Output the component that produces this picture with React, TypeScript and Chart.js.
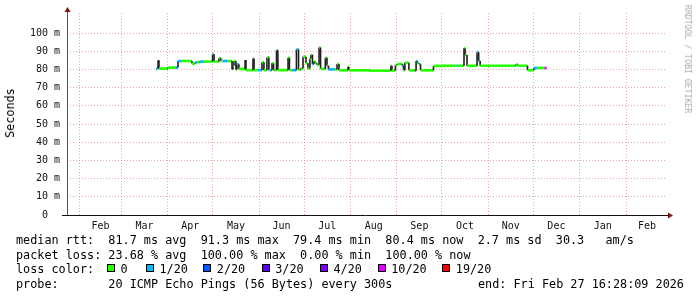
import React, { useEffect, useRef } from 'react';
import { Chart, registerables } from 'chart.js';

Chart.register(...registerables);

// Time axis in days since 2025-01-01 00:00 (window: last 400 days ending Fri Feb 27 16:28:09 2026)
const X_MIN = 22.686;
const X_MAX = 422.686;

// month boundaries (day offsets of the 1st of Feb 2025 ... Mar 2026)
const monthStarts = [31, 59, 90, 120, 151, 181, 212, 243, 273, 304, 334, 365, 396, 424];
const monthLabels = ['Feb', 'Mar', 'Apr', 'May', 'Jun', 'Jul', 'Aug', 'Sep', 'Oct', 'Nov', 'Dec', 'Jan', 'Feb'];

// y axis ticks (ms); labels every 10, minor lines every 5
const yTicks = [0, 5, 10, 15, 20, 25, 30, 35, 40, 45, 50, 55, 60, 65, 70, 75, 80, 85, 90, 95, 100, 105];
const Y_MAX = 111;

// Median RTT as runs: start day, median (ms), loss level index
const runStartDays = [
  82.1, 83.0, 83.5, 84.1, 90.1, 95.5, 96.8, 98.8, 106.2, 108.2,
  109.5, 111.5, 114.2, 119.9, 120.9, 124.2, 125.5, 126.5, 130.0, 132.9,
  133.5, 134.2, 135.5, 136.2, 137.5, 141.6, 142.2, 146.9, 147.6, 150.2,
  152.2, 152.9, 154.2, 156.2, 157.5, 158.3, 159.6, 160.6, 162.6, 163.5,
  170.3, 171.2, 173.0, 175.9, 177.3, 178.8, 180.3, 182.3, 183.6, 184.9,
  185.6, 186.6, 187.5, 188.5, 189.6, 191.0, 192.0, 195.2, 196.3, 197.3,
  201.5, 203.0, 204.3, 210.3, 210.9, 225.0, 239.0, 239.7, 242.0, 243.2,
  246.7, 247.4, 248.3, 251.0, 255.1, 255.8, 256.6, 257.8, 258.8, 267.4,
  272.9, 282.3, 283.0, 287.8, 288.5, 289.8, 296.5, 297.6, 298.6, 321.9,
  322.6, 323.9, 330.2, 334.5, 336.6, 341.5,
];
const runMedianMs = [
  80.3, 80.3, 85.0, 80.4, 81.0, 81.0, 84.6, 84.6, 83.2, 83.8,
  84.0, 84.3, 84.3, 88.3, 84.3, 86.1, 84.6, 84.6, 84.6, 80.0,
  82.0, 84.6, 80.0, 82.8, 80.3, 85.2, 79.6, 86.0, 79.6, 79.6,
  79.6, 83.9, 79.6, 86.6, 79.6, 79.6, 83.4, 79.6, 90.5, 79.6,
  86.4, 79.6, 79.6, 91.0, 79.8, 80.5, 87.0, 83.4, 80.5, 86.0,
  88.0, 82.8, 84.3, 83.4, 82.5, 92.0, 80.3, 86.4, 82.0, 80.0,
  80.0, 83.0, 79.5, 81.5, 79.5, 79.3, 82.0, 79.5, 82.4, 83.0,
  82.0, 79.5, 83.7, 79.5, 79.3, 84.6, 83.5, 82.8, 79.5, 81.9,
  82.0, 82.0, 82.0, 91.6, 87.9, 82.0, 89.5, 84.6, 82.0, 82.2,
  82.6, 82.0, 79.5, 80.8, 80.8, 80.8,
];
const runLoss = [
  1, 0, 0, 0, 0, 1, 1, 0, 0, 1,
  0, 1, 0, 1, 0, 0, 0, 1, 0, 0,
  0, 0, 0, 1, 0, 1, 0, 0, 0, 1,
  0, 0, 0, 0, 0, 1, 0, 0, 1, 0,
  0, 0, 1, 1, 0, 0, 0, 0, 0, 0,
  0, 1, 0, 0, 0, 0, 0, 0, 0, 1,
  0, 0, 0, 0, 0, 0, 0, 0, 0, 0,
  1, 0, 0, 0, 1, 1, 0, 1, 0, 0,
  0, 1, 0, 0, 0, 0, 1, 1, 0, 1,
  0, 0, 0, 1, 0, 5,
];
const runEndDay = 343.0;

const lossLabels = ['0', '1/20', '2/20', '3/20', '4/20', '10/20', '19/20'];
const lossColors = ['#26ff00', '#00b8ff', '#0059ff', '#5e00ff', '#7e00ff', '#dd00ff', '#ff0000'];

const medianLine = 'median rtt:  81.7 ms avg  91.3 ms max  79.4 ms min  80.4 ms now  2.7 ms sd  30.3   am/s';
const lossLine = 'packet loss: 23.68 % avg  100.00 % max  0.00 % min  100.00 % now';
const probeLine = 'probe:       20 ICMP Echo Pings (56 Bytes) every 300s';
const endLine = 'end: Fri Feb 27 16:28:09 2026';

const MONO = "'DejaVu Sans Mono', monospace";

const axesPlugin = {
  id: 'rrdAxes',
  afterDraw(chart: any) {
    const { ctx, chartArea } = chart;
    const { left, right, top, bottom } = chartArea;
    ctx.save();
    ctx.lineWidth = 1;
    ctx.strokeStyle = '#555';
    ctx.beginPath();
    ctx.moveTo(left + 0.5, bottom);
    ctx.lineTo(left + 0.5, top - 3);
    ctx.stroke();
    ctx.strokeStyle = '#111';
    ctx.beginPath();
    ctx.moveTo(left - 5, bottom + 0.5);
    ctx.lineTo(right + 3, bottom + 0.5);
    ctx.stroke();
    ctx.fillStyle = '#7a1010';
    ctx.beginPath();
    ctx.moveTo(right + 2, bottom - 2.5);
    ctx.lineTo(right + 7, bottom + 0.5);
    ctx.lineTo(right + 2, bottom + 3.5);
    ctx.closePath();
    ctx.fill();
    ctx.beginPath();
    ctx.moveTo(left - 2.5, top - 1);
    ctx.lineTo(left + 0.5, top - 6);
    ctx.lineTo(left + 3.5, top - 1);
    ctx.closePath();
    ctx.fill();
    ctx.restore();
  },
};

export default function App() {
  const canvasRef = useRef<HTMLCanvasElement | null>(null);

  useEffect(() => {
    const canvas = canvasRef.current;
    if (!canvas) return;

    const points: { x: number; y: number }[] = [];
    const pointLoss: number[] = [];
    for (let i = 0; i < runStartDays.length; i++) {
      const end = i + 1 < runStartDays.length ? runStartDays[i + 1] : runEndDay;
      points.push({ x: runStartDays[i], y: runMedianMs[i] });
      points.push({ x: end, y: runMedianMs[i] });
      pointLoss.push(runLoss[i], runLoss[i]);
    }

    const mids: number[] = [];
    const midLabel = new Map<number, string>();
    for (let i = 0; i < monthLabels.length; i++) {
      const m = (monthStarts[i] + monthStarts[i + 1]) / 2;
      mids.push(m);
      midLabel.set(m, monthLabels[i]);
    }

    const majorColor = 'rgba(215, 90, 90, 0.55)';
    const minorColor = 'rgba(150, 150, 150, 0.55)';

    const chart = new Chart(canvas, {
      type: 'line',
      data: {
        datasets: [
          {
            data: points as any,
            borderWidth: 2,
            pointRadius: 0,
            tension: 0,
            borderCapStyle: 'butt',
            segment: {
              borderColor: (c: any) =>
                c.p0DataIndex % 2 === 1 ? '#1e1e1e' : lossColors[pointLoss[c.p0DataIndex]],
              borderWidth: (c: any) => (c.p0DataIndex % 2 === 1 ? 1.6 : 2.6),
            },
          } as any,
        ],
      },
      options: {
        animation: false,
        responsive: false,
        events: [],
        layout: { padding: { top: 13, right: 31, left: 0, bottom: 0 } },
        plugins: { legend: { display: false }, tooltip: { enabled: false } },
        scales: {
          x: {
            type: 'linear',
            min: X_MIN,
            max: X_MAX,
            afterBuildTicks: (scale: any) => {
              const t = [...monthStarts.filter((d) => d >= X_MIN && d <= X_MAX), ...mids.filter((d) => d >= X_MIN && d <= X_MAX)];
              t.sort((a, b) => a - b);
              scale.ticks = t.map((v) => ({ value: v }));
            },
            afterFit: (scale: any) => {
              scale.height = 82;
            },
            ticks: {
              autoSkip: false,
              maxRotation: 0,
              minRotation: 0,
              padding: 5,
              color: '#111',
              font: { family: MONO, size: 10 },
              callback: (v: any) => midLabel.get(Number(v)) ?? '',
            },
            grid: {
              drawTicks: false,
              color: (c: any) => (c.tick && midLabel.has(c.tick.value) ? 'rgba(0,0,0,0)' : majorColor),
              lineWidth: 1,
            },
            border: { display: false, dash: [1, 2] },
          },
          y: {
            type: 'linear',
            min: 0,
            max: Y_MAX,
            afterBuildTicks: (scale: any) => {
              scale.ticks = yTicks.map((v) => ({ value: v }));
            },
            afterFit: (scale: any) => {
              scale.width = 67;
            },
            ticks: {
              padding: 7,
              color: '#111',
              font: { family: MONO, size: 10 },
              callback: (v: any) => {
                const n = Number(v);
                if (n % 10 !== 0) return '';
                return n === 0 ? '0  ' : `${n} m`;
              },
            },
            grid: {
              drawTicks: false,
              color: (c: any) => {
                const v = c.tick ? c.tick.value : 0;
                if (v === 0) return 'rgba(0,0,0,0)';
                return v % 10 === 0 ? majorColor : minorColor;
              },
              lineWidth: 1,
            },
            border: { display: false, dash: [1, 2] },
          },
        },
      },
      plugins: [axesPlugin],
    } as any);

    return () => chart.destroy();
  }, []);

  const textStyle: React.CSSProperties = {
    position: 'absolute',
    fontFamily: MONO,
    fontSize: '11.8px',
    lineHeight: '14px',
    whiteSpace: 'pre',
    color: '#000',
  };

  const boxLefts = [107, 146, 203.3, 261.7, 320, 377.7, 442.3];

  return (
    <div style={{ position: 'absolute', left: 0, top: 0, width: 697, height: 297, background: '#fff', overflow: 'hidden' }}>
      <canvas ref={canvasRef} width={697} height={297} style={{ position: 'absolute', left: 0, top: 0, width: 697, height: 297 }} />
      <div
        style={{
          ...textStyle,
          left: 10,
          top: 113,
          transform: 'translate(-50%, -50%) rotate(-90deg)',
        }}
      >
        Seconds
      </div>
      <div
        style={{
          position: 'absolute',
          left: 688,
          top: 59,
          transform: 'translate(-50%, -50%) rotate(90deg)',
          fontFamily: MONO,
          fontSize: '8.2px',
          lineHeight: '10px',
          whiteSpace: 'pre',
          color: '#aaa',
        }}
      >
        RRDTOOL / TOBI OETIKER
      </div>
      <div style={{ ...textStyle, left: 16, top: 233.3 }}>{medianLine}</div>
      <div style={{ ...textStyle, left: 16, top: 248.3 }}>{lossLine}</div>
      <div style={{ ...textStyle, left: 16, top: 261.9 }}>loss color:</div>
      {lossLabels.map((l, i) => (
        <React.Fragment key={l}>
          <div
            style={{
              position: 'absolute',
              left: boxLefts[i],
              top: 264,
              width: 8,
              height: 8,
              boxSizing: 'border-box',
              border: '1px solid #000',
              background: lossColors[i],
            }}
          />
          <div style={{ ...textStyle, left: boxLefts[i] + 13.5, top: 261.9 }}>{l}</div>
        </React.Fragment>
      ))}
      <div style={{ ...textStyle, left: 16, top: 276.6 }}>{probeLine}</div>
      <div style={{ ...textStyle, left: 478, top: 276.6 }}>{endLine}</div>
    </div>
  );
}
